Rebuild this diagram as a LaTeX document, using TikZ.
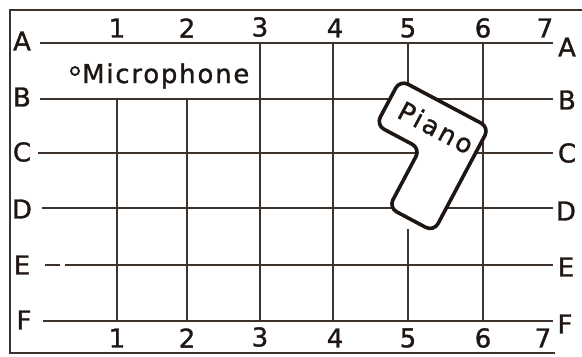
\documentclass[tikz,border=0pt]{standalone}
\usepackage{fontspec}
\setmainfont{DejaVu Sans}[FakeBold=1.2]
\definecolor{gridc}{RGB}{62,50,44}
\definecolor{inkc}{RGB}{30,22,18}
\begin{document}
\begin{tikzpicture}[x=1bp,y=-1bp,
  gridline/.style={line width=2.4bp, draw=gridc},
  framel/.style={line width=2.4bp, draw=gridc},
  lbl/.style={inner sep=0pt, text=inkc, font=\fontsize{26}{26}\selectfont},
  pianobox/.style={draw=inkc, fill=white, line width=3.6bp, rounded corners=9bp, line join=round}]
\useasboundingbox (0,0) rectangle (582,356);
\fill[white] (0,0) rectangle (582,356);
% frame
\draw[framel] (582,10) -- (10,10) -- (10,353) -- (555,353);
% rows
\draw[gridline] (40,43) -- (553,43);
\draw[gridline] (40,99) -- (553,99);
\draw[gridline] (38,153) -- (553,153);
\draw[gridline] (42,208) -- (553,208);
\draw[gridline] (45,265) -- (60,265);
\draw[gridline] (65,265) -- (553,265);
\draw[gridline] (43,321) -- (553,321);
% columns
\draw[gridline] (117,99) -- (117,321);
\draw[gridline] (187,99) -- (187,321);
\draw[gridline] (260,43) -- (260,321);
\draw[gridline] (333,43) -- (333,321);
\draw[gridline] (408,43) -- (408,90);
\draw[gridline] (408,229) -- (408,321);
\draw[gridline] (483,43) -- (483,321);
% top numbers
\node[lbl] (t1) at (117,28) {1};
\node[lbl] (t2) at (187,28) {2};
\node[lbl] (t3) at (260,27) {3};
\node[lbl] (t4) at (335,28) {4};
\node[lbl] (t5) at (408,28) {5};
\node[lbl] (t6) at (483,28) {6};
\node[lbl] (t7) at (545,28) {7};
% bottom numbers
\node[lbl] (b1) at (117,338) {1};
\node[lbl] (b2) at (187,338) {2};
\node[lbl] (b3) at (260,337) {3};
\node[lbl] (b4) at (335,338) {4};
\node[lbl] (b5) at (408,338) {5};
\node[lbl] (b6) at (483,338) {6};
\node[lbl] (b7) at (543,338) {7};
% left letters
\node[lbl] (lA) at (22,41) {A};
\node[lbl] (lB) at (22,97) {B};
\node[lbl] (lC) at (22,152) {C};
\node[lbl] (lD) at (22,209) {D};
\node[lbl] (lE) at (22,265) {E};
\node[lbl] (lF) at (24,320) {F};
% right letters
\node[lbl] (rA) at (567,47) {A};
\node[lbl] (rB) at (567,100) {B};
\node[lbl] (rC) at (567,153) {C};
\node[lbl] (rD) at (566,211) {D};
\node[lbl] (rE) at (566,267) {E};
\node[lbl] (rF) at (565,324) {F};
% microphone
\draw[draw=inkc, line width=1.8bp] (75,71) circle (4);
\node[lbl, anchor=base west] (mic) at (82,83) {\addfontfeature{LetterSpace=7}Microphone};
% piano
\begin{scope}[shift={(400,80)}, rotate=-28]
  \draw[pianobox] (0,0) -- (101,0) -- (101,118) -- (50,118) -- (50,51) -- (0,51) -- cycle;
  \node[lbl, rotate=-28] (piano) at (54,25) {\addfontfeature{LetterSpace=10}Piano};
\end{scope}
\end{tikzpicture}
\end{document}
